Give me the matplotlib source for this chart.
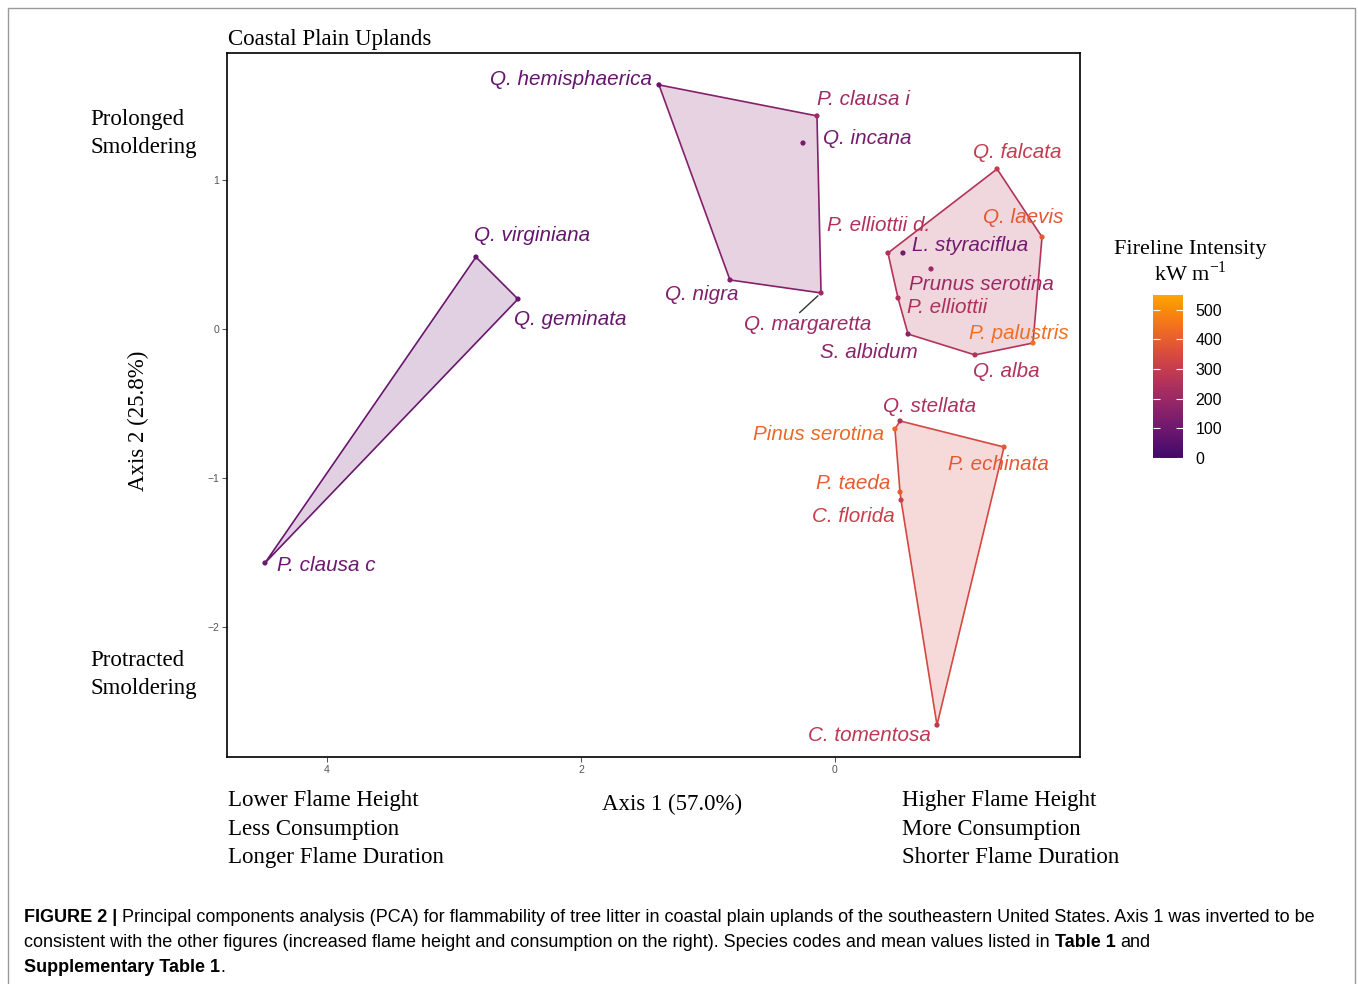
import numpy as np
import matplotlib
matplotlib.use("Agg")
import matplotlib.pyplot as plt
from matplotlib.colors import ListedColormap, Normalize
from matplotlib.patches import Polygon, Rectangle

W, H = 1358, 984

# PCA scores (axis 1 inverted on the plot), fireline intensity and hull group
species = ["Q. hemisphaerica", "P. clausa i", "Q. incana", "Q. nigra", "Q. margaretta",
           "Q. virginiana", "Q. geminata", "P. clausa c",
           "Q. falcata", "Q. laevis", "P. elliottii d.", "L. styraciflua", "Prunus serotina",
           "P. elliottii", "S. albidum", "P. palustris", "Q. alba",
           "Q. stellata", "Pinus serotina", "P. echinata", "P. taeda", "C. florida", "C. tomentosa"]
axis1 = [1.386, 0.142, 0.252, 0.827, 0.110,
         2.827, 2.496, 4.488,
         -1.276, -1.630, -0.417, -0.535, -0.756,
         -0.496, -0.575, -1.559, -1.102,
         -0.512, -0.472, -1.331, -0.512, -0.520, -0.803]
axis2 = [1.638, 1.430, 1.248, 0.329, 0.242,
         0.483, 0.201, -1.570,
         1.074, 0.617, 0.510, 0.510, 0.403,
         0.208, -0.034, -0.094, -0.174,
         -0.617, -0.671, -0.792, -1.094, -1.148, -2.658]
intensity = [80, 210, 120, 140, 205,
             80, 85, 95,
             293, 385, 250, 110, 200,
             240, 165, 440, 250,
             245, 425, 385, 395, 310, 280]
group = [2, 2, 2, 2, 2,
         1, 1, 1,
         3, 3, 3, 3, 3,
         3, 3, 3, 3,
         4, 4, 4, 4, 4, 4]

# label offsets from each point, in pixels
label_dx = [-88, 46, 64, -28, -13, 56, 52, 61, 20, -19, -9, 67, 50, 49, -39, -14, 31, 30, -76, -6, -47, -48, -68]
label_dy = [5, 16, 5, -15, -32, 22, -20, -3, 16, 20, 27, 7, -16, -10, -18, 10, -17, 14, -6, -17, 9, -16, -10]

x_ticks = [4, 2, 0]
y_ticks = [1, 0, -1, -2]
cbar_ticks = [0, 100, 200, 300, 400, 500]

SERIF = ["Liberation Serif", "DejaVu Serif"]
SANS = ["Liberation Sans", "DejaVu Sans"]

cmap = ListedColormap(plt.cm.inferno(np.linspace(0.2, 0.8, 256)))
norm = Normalize(0, 550)


def hull(pts):
    pts = sorted(set(pts))
    if len(pts) < 3:
        return pts

    def cross(o, a, b):
        return (a[0] - o[0]) * (b[1] - o[1]) - (a[1] - o[1]) * (b[0] - o[0])

    lower, upper = [], []
    for p in pts:
        while len(lower) >= 2 and cross(lower[-2], lower[-1], p) <= 0:
            lower.pop()
        lower.append(p)
    for p in reversed(pts):
        while len(upper) >= 2 and cross(upper[-2], upper[-1], p) <= 0:
            upper.pop()
        upper.append(p)
    return lower[:-1] + upper[:-1]


def fx(x):
    return x / W


def fy(y):
    return 1 - y / H


fig = plt.figure(figsize=(W / 100, H / 100), dpi=100)
ax = fig.add_axes([fx(227), fy(757), (1080 - 227) / W, (757 - 53) / H])

# hulls
for g in sorted(set(group)):
    idx = [i for i in range(len(species)) if group[i] == g]
    pts = hull([(axis1[i], axis2[i]) for i in idx])
    col = cmap(norm(np.mean([intensity[i] for i in idx])))
    ax.add_patch(Polygon(pts, closed=True, facecolor=col, alpha=0.2, edgecolor="none", zorder=1))
    ax.add_patch(Polygon(pts, closed=True, facecolor="none", edgecolor=col, lw=1.2, zorder=2))

ax.scatter(axis1, axis2, c=intensity, cmap=cmap, norm=norm, s=14, zorder=3, linewidths=0)

for i, name in enumerate(species):
    col = cmap(norm(intensity[i]))
    kw = {}
    if name == "Q. margaretta":
        kw["arrowprops"] = dict(arrowstyle="-", color="#333333", lw=1.0, shrinkA=0, shrinkB=3,
                                relpos=(0.41, 1.0))
    ax.annotate(name, (axis1[i], axis2[i]), xytext=(label_dx[i], label_dy[i]),
                textcoords="offset pixels", ha="center", va="center", color=col,
                fontsize=14.9, style="italic", family=SANS, zorder=4, **kw)

ax.set_xlim(4.787, -1.929)
ax.set_ylim(-2.872, 1.852)
ax.set_xticks(x_ticks)
ax.set_yticks(y_ticks)
ax.tick_params(length=3.5, width=0.6, color="#333333", labelsize=7.5, labelcolor="#555555", pad=2)
for lab in ax.get_xticklabels() + ax.get_yticklabels():
    lab.set_family(SANS)
for s in ax.spines.values():
    s.set_linewidth(1.2)

# colorbar
cax = fig.add_axes([fx(1153), fy(458), 30 / W, 163 / H])
sm = plt.cm.ScalarMappable(norm=norm, cmap=cmap)
cb = fig.colorbar(sm, cax=cax, ticks=cbar_ticks)
cb.outline.set_visible(False)
cax.tick_params(direction="in", length=5, width=0.8, color="white", left=True, right=True,
                labelsize=11.5, labelcolor="black", pad=9)
for lab in cax.get_yticklabels():
    lab.set_family(SANS)

# titles and side notes
fig.text(fx(228), fy(45), "Coastal Plain Uplands", family=SERIF, fontsize=16.5, va="baseline")
fig.text(fx(90), fy(125), "Prolonged", family=SERIF, fontsize=16.5, va="baseline")
fig.text(fx(90), fy(153), "Smoldering", family=SERIF, fontsize=16.5, va="baseline")
fig.text(fx(90), fy(666), "Protracted", family=SERIF, fontsize=16.5, va="baseline")
fig.text(fx(90), fy(694), "Smoldering", family=SERIF, fontsize=16.5, va="baseline")
fig.text(fx(138), fy(421), "Axis 2 (25.8%)", family=SERIF, fontsize=16.5, rotation=90,
         ha="center", va="center")
fig.text(fx(672), fy(810), "Axis 1 (57.0%)", family=SERIF, fontsize=16.5, ha="center", va="baseline")
for k, line in enumerate(["Lower Flame Height", "Less Consumption", "Longer Flame Duration"]):
    fig.text(fx(228), fy(806 + 28.5 * k), line, family=SERIF, fontsize=16.5, va="baseline")
for k, line in enumerate(["Higher Flame Height", "More Consumption", "Shorter Flame Duration"]):
    fig.text(fx(902), fy(806 + 28.5 * k), line, family=SERIF, fontsize=16.5, va="baseline")
fig.text(fx(1190), fy(254), "Fireline Intensity", family=SERIF, fontsize=16, ha="center", va="baseline")
fig.text(fx(1190), fy(281), r"kW m$^{\mathregular{-1}}$", family=SERIF, fontsize=16, ha="center",
         va="baseline")

# outer frame
fig.patches.append(Rectangle((fx(8), fy(1000)), (1355 - 8) / W, (1000 - 8) / H, transform=fig.transFigure,
                             fill=False, edgecolor="#999999", lw=1.0, clip_on=False))

# caption with bold runs
renderer = fig.canvas.get_renderer()
CAP = ["Liberation Sans Narrow", "Liberation Sans", "DejaVu Sans"]


def width_of(txt, size, weight):
    t = fig.text(0, 0, txt, fontsize=size, fontweight=weight, family=CAP)
    w = t.get_window_extent(renderer).width
    t.remove()
    return w


line1 = [("FIGURE 2 |", "bold"),
         ("Principal components analysis (PCA) for flammability of tree litter in coastal plain uplands "
          "of the southeastern United States. Axis 1 was inverted to be", "normal")]
line2 = [("consistent with the other figures (increased flame height and consumption on the right). "
          "Species codes and mean values listed in", "normal"), ("Table 1", "bold"), ("and", "normal")]
line3 = [("Supplementary Table 1", "bold"), (".", "tight")]

base = 12
space = width_of("a a", base, "normal") - width_of("aa", base, "normal")
total = sum(width_of(t, base, w) for t, w in line1) + space
size = base * (1318 - 24) / total
space = space * size / base

for line, y in [(line1, 922), (line2, 947), (line3, 972)]:
    x = 24
    for txt, weight in line:
        if weight == "tight":
            x -= space
            weight = "normal"
        t = fig.text(fx(x), fy(y), txt, fontsize=size, fontweight=weight, family=CAP, va="baseline")
        x += t.get_window_extent(renderer).width + space

fig.savefig("out.png", dpi=100)
